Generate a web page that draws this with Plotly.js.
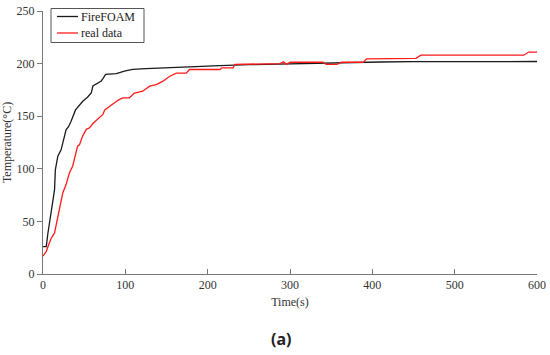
<!DOCTYPE html>
<html>
<head>
<meta charset="utf-8">
<script src="https://cdn.plot.ly/plotly-3.0.1.min.js"></script>
<style>
html,body{margin:0;padding:0;background:#fff;}
#chart{width:550px;height:355px;}
</style>
</head>
<body>
<div id="chart"></div>
<script>
// FireFOAM simulation
const fireTime = [0,4,6,8,10,12,14,15,18,22,26,28,31,34,39.5,44,48,54,58.6,60.6,66,70.8,73,76,80,89,100,109,125,138,160,178,200,215,250,300,350,409,450,500,600];
const fireTemp = [26,26,39,50,61,70,80,99,112,118,131,137,140,145,156,160,164,168,172,178.7,181,183.5,186,189.7,190,190.5,193,194.6,195.2,195.5,196.2,196.8,197.3,198,199,200,200.8,201.5,201.8,202,202];
// Measured data
const realTime = [0,4,7,10,14,16,18,22,24,28,32,36,38,40,42,44.4,48,52.6,56.6,60.6,65,68.7,72.7,75,81,83,89,93,97,105,111,121,129.6,137.7,145.7,154,162,174,178,215,217,231,233,288,292,296,300,340,344,357,363,389,393,453,459,584,590,600];
const realTemp = [17,21.5,28,34,39,47,55,69,77,85,96,102.5,109,113.5,121.5,123,131,137.5,139,143,146,148.5,151.7,156,159.6,161,164,166,167.5,167.5,172,173.8,178.5,180,183.3,188,191,191,194.4,194.4,196,196,199.3,200,201.7,199.3,201.3,201.3,199.3,199.3,201.3,201.3,204.5,205,208,208,211,211];
const seriesNames = ["FireFOAM","real data"];
const seriesColors = ["#1a1a1a","#ff1a1a"];
const xTicks = [0,100,200,300,400,500,600];
const yTicks = [0,50,100,150,200,250];

const serif = "'Liberation Serif','Times New Roman',serif";
const W = 550, H = 355;
const M = {l: 43, r: 13, t: 11, b: 81};
const pw = W - M.l - M.r, ph = H - M.t - M.b;
const px2x = p => (p - M.l) / pw;
const py2y = p => (H - M.b - p) / ph;

const traces = [
  {x: fireTime, y: fireTemp, name: seriesNames[0], mode: "lines", showlegend: false,
   line: {color: seriesColors[0], width: 1.3}},
  {x: realTime, y: realTemp, name: seriesNames[1], mode: "lines", showlegend: false,
   line: {color: seriesColors[1], width: 1.3}}
];

// legend box drawn as shapes + text
const shapes = [
  {type: "rect", xref: "paper", yref: "paper", x0: px2x(51), x1: px2x(144), y0: py2y(42.5), y1: py2y(8.5),
   line: {color: "#555", width: 1}, fillcolor: "#fff", layer: "above"},
  {type: "line", xref: "paper", yref: "paper", x0: px2x(57), x1: px2x(78), y0: py2y(16.5), y1: py2y(16.5),
   line: {color: seriesColors[0], width: 1.3}, layer: "above"},
  {type: "line", xref: "paper", yref: "paper", x0: px2x(57), x1: px2x(78), y0: py2y(33), y1: py2y(33),
   line: {color: seriesColors[1], width: 1.3}, layer: "above"}
];
const annotations = [
  {text: seriesNames[0], xref: "paper", yref: "paper", x: px2x(78.5), y: py2y(16.5), xanchor: "left", yanchor: "middle",
   showarrow: false, font: {family: serif, size: 12, color: "#222"}},
  {text: seriesNames[1], xref: "paper", yref: "paper", x: px2x(78.5), y: py2y(33), xanchor: "left", yanchor: "middle",
   showarrow: false, font: {family: serif, size: 12, color: "#222"}},
  {text: "<b>(a)</b>", xref: "paper", yref: "paper", x: px2x(281), y: py2y(339),
   xanchor: "center", yanchor: "middle", showarrow: false,
   font: {family: "'Noto Sans',sans-serif", size: 16, color: "#222"}}
];

const layout = {
  width: W, height: H,
  margin: M,
  paper_bgcolor: "#fff", plot_bgcolor: "#fff",
  font: {family: serif, size: 12, color: "#333"},
  showlegend: false,
  xaxis: {range: [0, 600], tickvals: xTicks, ticktext: xTicks.map(String),
    showgrid: false, zeroline: false, showline: true, linecolor: "#777", linewidth: 1,
    ticks: "inside", ticklen: 5, tickcolor: "#777",
    tickfont: {family: serif, size: 12, color: "#333"},
    title: {text: "Time(s)", font: {family: serif, size: 12, color: "#333"}, standoff: 6}},
  yaxis: {range: [0, 250], tickvals: yTicks, ticktext: yTicks.map(String),
    showgrid: false, zeroline: false, showline: true, linecolor: "#777", linewidth: 1,
    ticks: "outside", ticklen: 5, tickcolor: "#777",
    tickfont: {family: serif, size: 12, color: "#333"},
    title: {text: "Temperature(°C)", font: {family: serif, size: 12, color: "#333"}, standoff: 6}},
  shapes: shapes,
  annotations: annotations
};
Plotly.newPlot("chart", traces, layout, {displayModeBar: false, staticPlot: true});
</script>
</body>
</html>
